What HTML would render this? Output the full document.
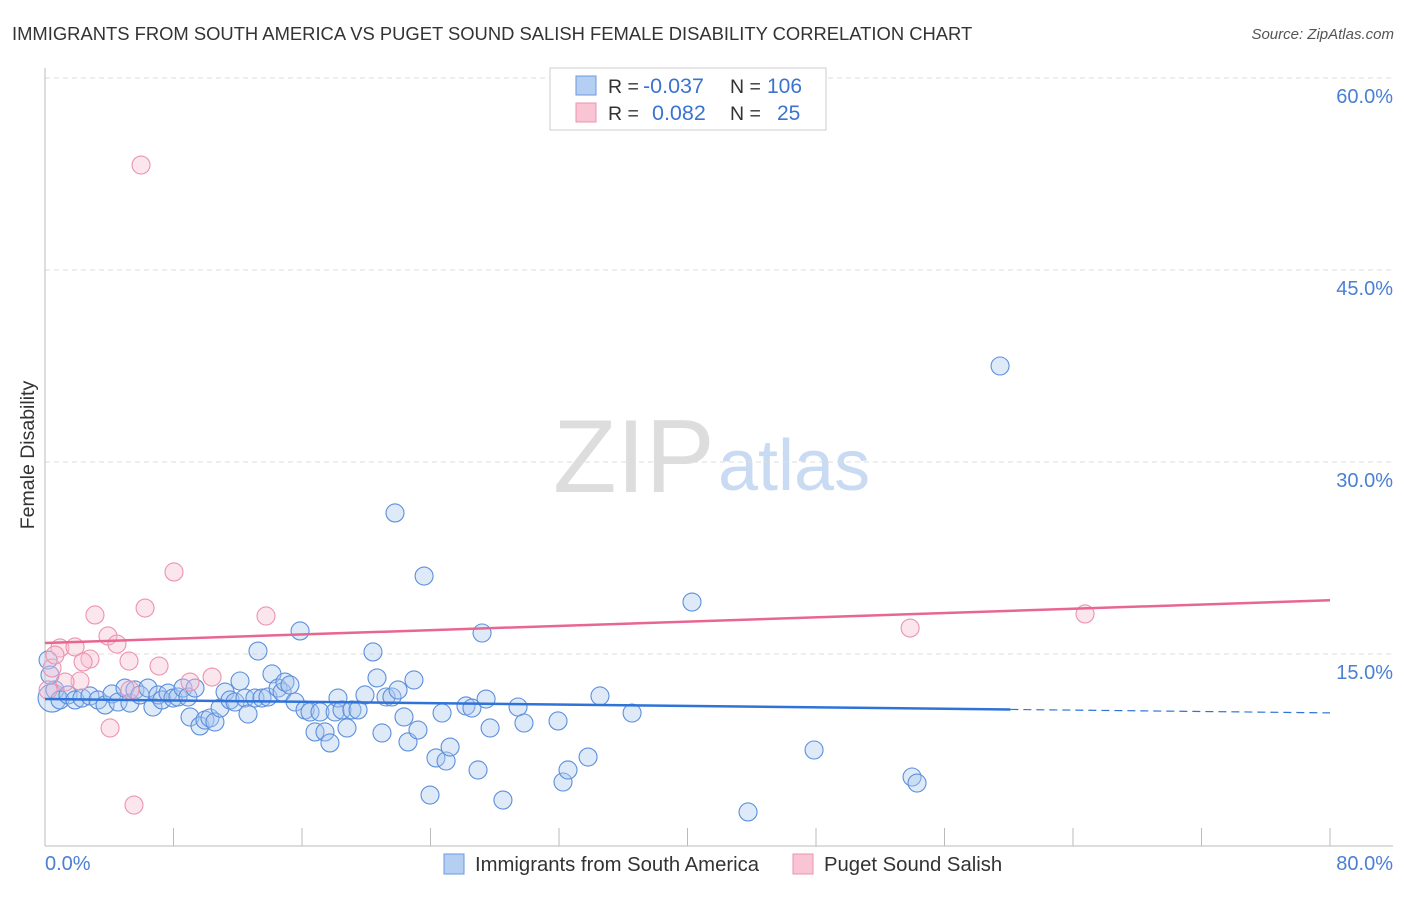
<!DOCTYPE html>
<html><head><meta charset="utf-8"><style>
body{margin:0;background:#fff;font-family:"Liberation Sans",sans-serif}
svg text{font-family:"Liberation Sans",sans-serif}
</style></head><body>
<svg id="chart" width="1406" height="892" xmlns="http://www.w3.org/2000/svg">
<text x="12" y="40" font-size="18.4" fill="#333">IMMIGRANTS FROM SOUTH AMERICA VS PUGET SOUND SALISH FEMALE DISABILITY CORRELATION CHART</text>
<text x="1394" y="39" font-size="15" fill="#555" font-style="italic" text-anchor="end">Source: ZipAtlas.com</text>
<text transform="translate(34,455) rotate(-90)" font-size="19.5" fill="#333" text-anchor="middle">Female Disability</text>
<g>
<text x="553" y="492" font-size="104" fill="#ddd" font-family="Liberation Serif">ZIP</text>
<text x="718" y="490" font-size="72" fill="#c9daf3">atlas</text>
</g>
<g id="grid"></g>
<g id="axes"></g>
<g id="marks"></g>
<g id="trend"></g>
<g>
<rect x="550" y="68" width="276" height="62" fill="#fff" stroke="#ccc"/>
<rect x="576" y="76" width="20" height="19" fill="#b5cff3" stroke="#6a9ae0"/>
<rect x="576" y="103" width="20" height="19" fill="#f9c5d5" stroke="#ec93ae"/>
<text x="608" y="93" font-size="19.5" fill="#333">R = </text><text x="643" y="93" font-size="21.5" fill="#3b74d0">-0.037</text>
<text x="730" y="93" font-size="19.5" fill="#333">N = </text><text x="767" y="93" font-size="21" fill="#3b74d0">106</text>
<text x="608" y="120" font-size="19.5" fill="#333">R = </text><text x="652" y="120" font-size="21.5" fill="#3b74d0">0.082</text>
<text x="730" y="120" font-size="19.5" fill="#333">N = </text><text x="777" y="120" font-size="21" fill="#3b74d0">25</text>
</g>
<g>
<rect x="444" y="854" width="20" height="20" fill="#b5cff3" stroke="#6a9ae0"/>
<text x="475" y="871" font-size="20.3" fill="#333">Immigrants from South America</text>
<rect x="793" y="854" width="20" height="20" fill="#f9c5d5" stroke="#ec93ae"/>
<text x="824" y="871" font-size="20.3" fill="#333">Puget Sound Salish</text>
</g>
</svg>
<script>
const yTicks=[15,30,45,60];
const yTickLabels=["15.0%","30.0%","45.0%","60.0%"];
const xTickVals=[0,8,16,24,32,40,48,56,64,72,80];
const blueX=[0.44,0.62,0.93,1.43,1.87,2.30,2.80,3.30,3.74,4.17,4.55,4.98,5.29,5.60,5.91,6.41,6.72,7.04,7.28,7.66,7.97,8.28,8.59,8.90,9.03,9.34,9.65,9.96,10.27,10.58,10.90,11.21,11.52,11.83,12.14,12.45,12.64,13.07,13.26,13.51,13.88,14.13,14.51,14.76,14.94,15.25,15.57,15.88,16.19,16.50,16.81,17.12,17.43,17.74,18.06,18.24,18.49,18.80,19.11,19.49,19.92,20.42,20.67,20.98,21.23,21.60,21.79,21.98,22.35,22.60,22.97,23.22,23.60,23.97,24.34,24.72,24.97,25.22,26.21,26.58,26.96,27.21,27.46,27.71,28.51,29.45,29.82,31.94,32.25,32.56,33.81,34.55,36.55,40.28,43.77,47.88,53.98,54.29,59.46,0.19,0.31];
const blueY=[11.56,12.19,11.41,11.80,11.41,11.56,11.72,11.41,11.02,11.88,11.25,12.34,11.17,12.19,11.80,12.34,10.86,11.80,11.41,11.95,11.56,11.64,12.34,11.64,10.08,12.34,9.38,9.84,10.00,9.69,10.78,12.03,11.41,11.25,12.89,11.56,10.31,11.56,15.23,11.56,11.64,13.44,12.34,12.03,12.81,12.58,11.25,16.80,10.63,10.47,8.91,10.47,8.91,8.05,10.47,11.56,10.63,9.22,10.63,10.63,11.80,15.16,13.13,8.83,11.64,11.64,26.02,12.19,10.08,8.13,12.97,9.06,21.09,3.98,6.88,10.39,6.64,7.73,10.94,10.78,5.94,16.64,11.48,9.22,3.59,10.86,9.61,9.77,5.00,5.94,6.95,11.72,10.39,19.06,2.66,7.50,5.39,4.92,37.50,14.53,13.36];
const pinkX=[5.98,8.03,3.11,6.23,13.76,3.92,4.48,0.93,1.87,2.80,2.37,5.23,7.10,10.40,2.18,9.03,5.29,4.05,5.54,53.86,64.75,0.44,0.19,1.25,0.62];
const pinkY=[53.20,21.41,18.05,18.59,17.97,16.41,15.78,15.47,15.55,14.61,14.38,14.45,14.06,13.20,12.89,12.81,12.19,9.22,3.20,17.03,18.13,13.91,12.19,12.81,14.92];
const blueTrend=[11.48,10.40];
const blueSolidEnd=[60.1];
const pinkTrend=[15.86,19.2];
const X0=45,X1=1330,Y0=846,YPX=12.8;
function sx(v){return X0+(v/80)*(X1-X0);}
function sy(v){return Y0-v*YPX;}
const NS="http://www.w3.org/2000/svg";
function mk(tag,attrs,parent){const e=document.createElementNS(NS,tag);for(const k in attrs)e.setAttribute(k,attrs[k]);document.getElementById(parent).appendChild(e);return e;}
yTicks.forEach((t,i)=>{
 const l=mk('line',{x1:45,x2:1393,y1:sy(t),y2:sy(t),stroke:'#ddd','stroke-dasharray':'5,4'},'grid');
 
 
 const tx=mk('text',{x:1393,y:sy(t)+25,'font-size':20,fill:'#4a7fd4','text-anchor':'end'},'grid');
 tx.textContent=yTickLabels[i];
 
 
});
let a=mk('line',{x1:45,x2:45,y1:68,y2:846,stroke:'#bbb'},'axes');


a=mk('line',{x1:45,x2:1393,y1:846,y2:846,stroke:'#bbb'},'axes');


xTickVals.forEach(v=>{
 const t=mk('line',{x1:sx(v),x2:sx(v),y1:828,y2:846,stroke:'#bbb'},'axes');
 
 
});
let xl=mk('text',{x:45,y:870,'font-size':20,fill:'#4a7fd4'},'axes');xl.textContent='0.0%';


xl=mk('text',{x:1393,y:870,'font-size':20,fill:'#4a7fd4','text-anchor':'end'},'axes');xl.textContent='80.0%';


blueX.forEach((x,i)=>{
 const c=mk('circle',{cx:sx(x),cy:sy(blueY[i]),r:i===0?14:9,fill:'rgba(170,200,240,0.38)',stroke:'#5b8fdc','stroke-width':1.1},'marks');
 
 
});
pinkX.forEach((x,i)=>{
 const c=mk('circle',{cx:sx(x),cy:sy(pinkY[i]),r:9,fill:'rgba(247,190,210,0.38)',stroke:'#ec93ae','stroke-width':1.1},'marks');
 
 
});
const bAt=v=>blueTrend[0]+(blueTrend[1]-blueTrend[0])*v/80;
let l=mk('line',{x1:sx(0),y1:sy(bAt(0)),x2:sx(blueSolidEnd[0]),y2:sy(bAt(blueSolidEnd[0])),stroke:'#2f73d8','stroke-width':2.5},'trend');


l=mk('line',{x1:sx(blueSolidEnd[0]),y1:sy(bAt(blueSolidEnd[0])),x2:sx(80),y2:sy(bAt(80)),stroke:'#2f73d8','stroke-width':1.2,'stroke-dasharray':'8,5'},'trend');


l=mk('line',{x1:sx(0),y1:sy(pinkTrend[0]),x2:sx(80),y2:sy(pinkTrend[1]),stroke:'#e8668f','stroke-width':2.5},'trend');


</script>
</body></html>
